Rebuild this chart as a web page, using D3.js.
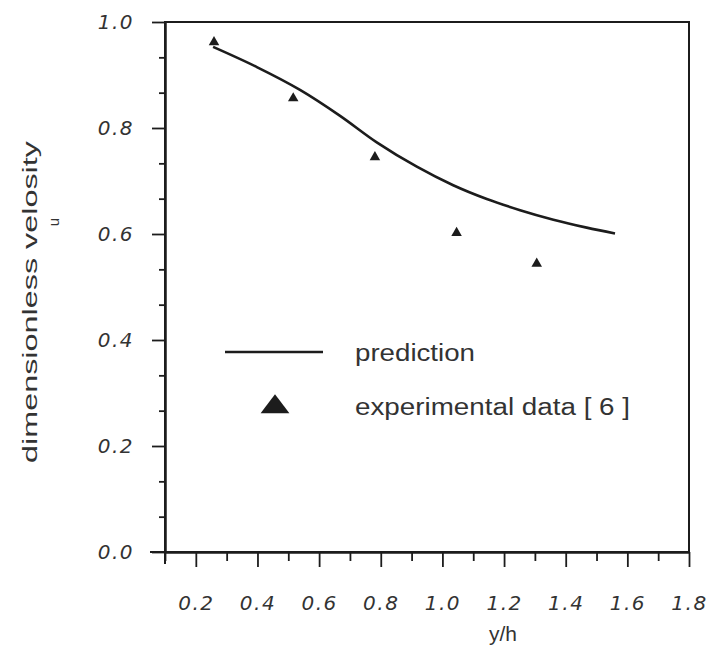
<!DOCTYPE html>
<html>
<head>
<meta charset="utf-8">
<script src="https://cdn.jsdelivr.net/npm/d3@7"></script>
<style>
  body { margin: 0; background: #fff; }
  svg { display: block; }
</style>
</head>
<body>
<svg width="709" height="660"></svg>
<script>
// prediction curve
const predX = [0.256, 0.398, 0.538, 0.668, 0.787, 0.917, 1.035, 1.144, 1.252, 1.36, 1.468, 1.56];
const predY = [0.953, 0.915, 0.872, 0.823, 0.773, 0.727, 0.692, 0.666, 0.645, 0.627, 0.612, 0.601];

// experimental data [6]
const expX = [0.259, 0.516, 0.781, 1.046, 1.306];
const expY = [0.962, 0.856, 0.745, 0.602, 0.544];

const xMajor = [0.2, 0.4, 0.6, 0.8, 1.0, 1.2, 1.4, 1.6, 1.8];
const xMinor = [0.1, 0.3, 0.5, 0.7, 0.9, 1.1, 1.3, 1.5, 1.7];
const yMajor = [0.0, 0.2, 0.4, 0.6, 0.8, 1.0];
const yMinor = d3.range(1, 15).filter(i => i % 3).map(i => i / 15);

const svg = d3.select("svg");
const ink = "#1c1c1c";
const textInk = "#333";

const x = d3.scaleLinear().domain([0.1, 1.8]).range([165, 689]);
const y = d3.scaleLinear().domain([0, 1]).range([552, 22]);

// frame
svg.append("rect")
  .attr("x", x(0.1)).attr("y", y(1))
  .attr("width", x(1.8) - x(0.1)).attr("height", y(0) - y(1))
  .attr("fill", "none").attr("stroke", ink).attr("stroke-width", 2);

const tickFont = g => g.selectAll("text")
  .attr("fill", textInk)
  .style("font-family", "'DejaVu Sans', sans-serif")
  .style("font-style", "italic")
  .style("font-size", "20px")
  .style("letter-spacing", "1.5px");

const cleanAxis = g => {
  g.select(".domain").attr("stroke", ink).attr("stroke-width", 2);
  g.selectAll(".tick line").attr("stroke", ink).attr("stroke-width", 1.8);
};

// y axis
svg.append("g")
  .attr("transform", `translate(${x(0.1)},0)`)
  .call(d3.axisLeft(y).tickValues(yMinor).tickSize(6).tickFormat("").tickSizeOuter(0))
  .call(cleanAxis);
svg.append("g")
  .attr("transform", `translate(${x(0.1)},0)`)
  .call(d3.axisLeft(y).tickValues(yMajor).tickSize(13).tickPadding(18)
    .tickFormat(d3.format(".1f")).tickSizeOuter(0))
  .call(cleanAxis)
  .call(tickFont);

// x axis
svg.append("g")
  .attr("transform", `translate(0,${y(0)})`)
  .call(d3.axisBottom(x).tickValues(xMinor).tickSize(9).tickFormat("").tickSizeOuter(0))
  .call(cleanAxis);
svg.append("g")
  .attr("transform", `translate(0,${y(0)})`)
  .call(d3.axisBottom(x).tickValues(xMajor).tickSize(15).tickPadding(29)
    .tickFormat(d3.format(".1f")).tickSizeOuter(0))
  .call(cleanAxis)
  .call(tickFont);

// axis crossings stick out a little
svg.append("line")
  .attr("x1", x(0.1) - 15).attr("x2", x(0.1))
  .attr("y1", y(0)).attr("y2", y(0))
  .attr("stroke", ink).attr("stroke-width", 2);
svg.append("line")
  .attr("x1", x(0.1)).attr("x2", x(0.1))
  .attr("y1", y(0)).attr("y2", y(0) + 12)
  .attr("stroke", ink).attr("stroke-width", 2);

// axis titles
svg.append("text")
  .attr("x", 503).attr("y", 641)
  .attr("text-anchor", "middle")
  .attr("fill", textInk)
  .style("font-family", "'Liberation Sans', Arial, sans-serif")
  .style("font-size", "21px")
  .text("y/h");

svg.append("text")
  .attr("transform", "translate(37,302) rotate(-90)")
  .attr("text-anchor", "middle")
  .attr("fill", textInk)
  .attr("textLength", 322)
  .attr("lengthAdjust", "spacingAndGlyphs")
  .style("font-family", "'Liberation Sans', Arial, sans-serif")
  .style("font-size", "21px")
  .text("dimensionless velosity");

svg.append("text")
  .attr("transform", "translate(59,222) rotate(-90)")
  .attr("text-anchor", "middle")
  .attr("fill", textInk)
  .style("font-family", "'Liberation Sans', Arial, sans-serif")
  .style("font-size", "15px")
  .text("u");

// prediction line
const pred = predX.map((v, i) => [v, predY[i]]);
svg.append("path")
  .datum(pred)
  .attr("fill", "none")
  .attr("stroke", ink)
  .attr("stroke-width", 2.6)
  .attr("d", d3.line().x(d => x(d[0])).y(d => y(d[1])).curve(d3.curveCatmullRom.alpha(0.5)));

// experimental triangles
const tri = d3.symbol().type(d3.symbolTriangle);
svg.append("g").selectAll("path")
  .data(expX.map((v, i) => [v, expY[i]]))
  .join("path")
  .attr("transform", d => `translate(${x(d[0])},${y(d[1])})`)
  .attr("d", tri.size(48)())
  .attr("fill", ink);

// legend
const legend = svg.append("g");
legend.append("line")
  .attr("x1", 225).attr("x2", 323).attr("y1", 352).attr("y2", 352)
  .attr("stroke", ink).attr("stroke-width", 2.4);
legend.append("path")
  .attr("transform", "translate(275,407) scale(1.25,0.95)")
  .attr("d", d3.symbol().type(d3.symbolTriangle).size(230)())
  .attr("fill", ink);
legend.append("text")
  .attr("x", 355).attr("y", 361)
  .attr("fill", textInk)
  .attr("textLength", 120)
  .attr("lengthAdjust", "spacingAndGlyphs")
  .style("font-family", "'Liberation Sans', Arial, sans-serif")
  .style("font-size", "23px")
  .text("prediction");
legend.append("text")
  .attr("x", 355).attr("y", 415)
  .attr("fill", textInk)
  .attr("textLength", 275)
  .attr("lengthAdjust", "spacingAndGlyphs")
  .style("font-family", "'Liberation Sans', Arial, sans-serif")
  .style("font-size", "23px")
  .text("experimental data [ 6 ]");
</script>
</body>
</html>
